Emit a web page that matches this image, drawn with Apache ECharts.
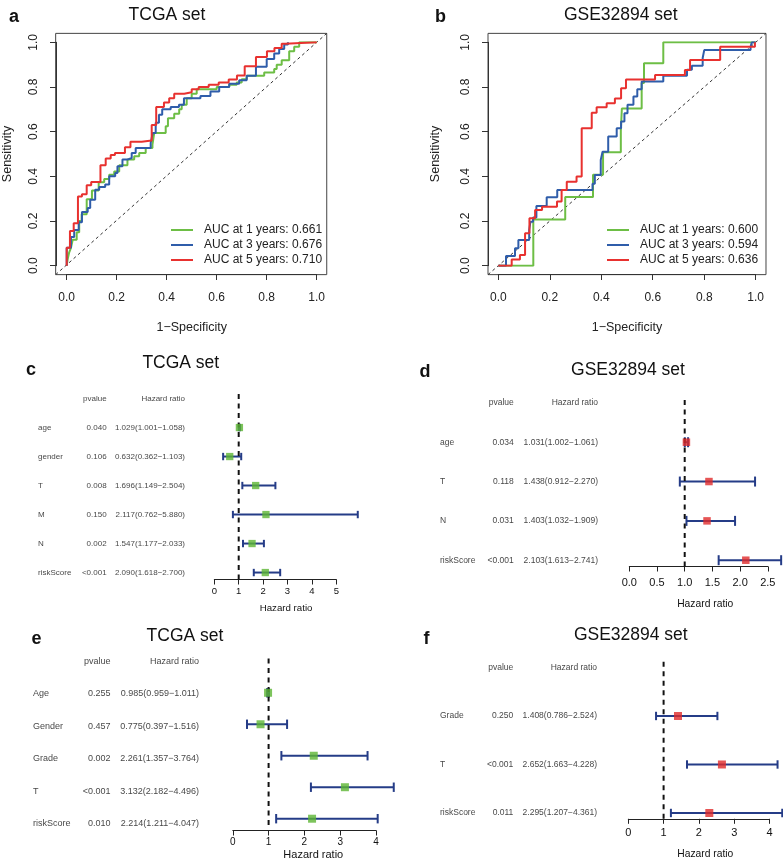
<!DOCTYPE html>
<html><head><meta charset="utf-8">
<script src="https://cdn.jsdelivr.net/npm/echarts@6/dist/echarts.min.js"></script>
<style>html,body{margin:0;padding:0;background:#fff}#c{width:783px;height:861px}</style>
</head><body><div id="c"></div>
<script>
const FONT = "'Liberation Sans', Arial, Helvetica, sans-serif";

// ---------- ROC data (x = 1-Specificity, y = Sensitivity) ----------
const rocA_1y = [[0,0],[0.004,0.03],[0.01,0.06],[0.017,0.08],[0.024,0.116],[0.04,0.15],[0.05,0.2],[0.06,0.23],[0.08,0.298],[0.101,0.337],[0.128,0.373],[0.15,0.388],[0.17,0.407],[0.19,0.422],[0.21,0.45],[0.243,0.475],[0.27,0.49],[0.29,0.505],[0.316,0.527],[0.343,0.542],[0.35,0.594],[0.396,0.624],[0.405,0.66],[0.43,0.68],[0.45,0.70],[0.46,0.72],[0.48,0.75],[0.5,0.77],[0.52,0.79],[0.6,0.80],[0.65,0.81],[0.68,0.82],[0.7,0.835],[0.72,0.85],[0.79,0.865],[0.83,0.88],[0.84,0.9],[0.86,0.92],[0.89,0.96],[0.91,0.98],[0.93,1.0],[1.0,1.0]];
const rocA_3y = [[0,0],[0,0.08],[0.017,0.128],[0.03,0.16],[0.048,0.195],[0.061,0.24],[0.084,0.258],[0.094,0.295],[0.114,0.34],[0.13,0.352],[0.154,0.363],[0.17,0.40],[0.194,0.415],[0.203,0.445],[0.223,0.475],[0.243,0.482],[0.26,0.505],[0.276,0.527],[0.336,0.55],[0.344,0.594],[0.356,0.64],[0.369,0.676],[0.382,0.70],[0.416,0.71],[0.449,0.72],[0.469,0.75],[0.535,0.76],[0.575,0.78],[0.61,0.80],[0.65,0.815],[0.69,0.83],[0.72,0.85],[0.757,0.89],[0.80,0.925],[0.83,0.95],[0.85,0.97],[0.87,0.99],[0.885,1.0]];
const rocA_5y = [[0,0],[0,0.08],[0.013,0.155],[0.028,0.19],[0.045,0.31],[0.061,0.32],[0.08,0.36],[0.098,0.375],[0.135,0.45],[0.156,0.48],[0.176,0.495],[0.193,0.505],[0.233,0.53],[0.255,0.555],[0.30,0.56],[0.34,0.63],[0.358,0.71],[0.389,0.73],[0.41,0.75],[0.43,0.77],[0.47,0.776],[0.50,0.79],[0.528,0.80],[0.568,0.81],[0.608,0.82],[0.648,0.833],[0.681,0.851],[0.712,0.893],[0.757,0.934],[0.801,0.96],[0.831,0.975],[0.86,0.994],[0.874,1.0],[1.0,1.0]];
const rocB_1y = [[0,0],[0.136,0.207],[0.26,0.307],[0.368,0.407],[0.407,0.508],[0.476,0.603],[0.48,0.704],[0.557,0.818],[0.566,0.906],[0.641,1.0],[1.0,1.0]];
const rocB_3y = [[0,0],[0.03,0.043],[0.065,0.078],[0.078,0.115],[0.12,0.16],[0.125,0.197],[0.135,0.216],[0.148,0.267],[0.188,0.306],[0.229,0.339],[0.366,0.367],[0.375,0.406],[0.398,0.473],[0.405,0.51],[0.427,0.578],[0.46,0.615],[0.477,0.645],[0.49,0.682],[0.502,0.72],[0.525,0.757],[0.54,0.79],[0.557,0.824],[0.641,0.85],[0.733,0.877],[0.752,0.895],[0.794,0.93],[0.80,0.965],[0.98,0.98],[0.985,1.0],[1.0,1.0]];
const rocB_5y = [[0,0],[0.052,0.028],[0.084,0.048],[0.104,0.145],[0.121,0.212],[0.143,0.249],[0.17,0.264],[0.228,0.287],[0.246,0.339],[0.266,0.376],[0.304,0.399],[0.324,0.615],[0.363,0.685],[0.382,0.709],[0.421,0.727],[0.453,0.748],[0.477,0.794],[0.496,0.834],[0.609,0.854],[0.725,0.876],[0.745,0.921],[0.862,0.98],[0.997,1.0]];
const rocYears = [1, 3, 5];
const aucA = ['0.661', '0.676', '0.710'];
const aucB = ['0.600', '0.594', '0.636'];
const rocColors = ['#6DBE45', '#2F5DAA', '#E8312F'];

// ---------- Forest data ----------
const varsC = ['age','gender','T','M','N','riskScore'];
const pC    = ['0.040','0.106','0.008','0.150','0.002','<0.001'];
const hrC   = [1.029,0.632,1.696,2.117,1.547,2.090];
const lowC  = [1.001,0.362,1.149,0.762,1.177,1.618];
const highC = [1.058,1.103,2.504,5.880,2.033,2.700];

const varsD = ['age','T','N','riskScore'];
const pD    = ['0.034','0.118','0.031','<0.001'];
const hrD   = [1.031,1.438,1.403,2.103];
const lowD  = [1.002,0.912,1.032,1.613];
const highD = [1.061,2.270,1.909,2.741];

const varsE = ['Age','Gender','Grade','T','riskScore'];
const pE    = ['0.255','0.457','0.002','<0.001','0.010'];
const hrE   = [0.985,0.775,2.261,3.132,2.214];
const lowE  = [0.959,0.397,1.357,2.182,1.211];
const highE = [1.011,1.516,3.764,4.496,4.047];

const varsF = ['Grade','T','riskScore'];
const pF    = ['0.250','<0.001','0.011'];
const hrF   = [1.408,2.652,2.295];
const lowF  = [0.786,1.663,1.207];
const highF = [2.524,4.228,4.361];

const FOREST_GREEN = '#5DB533', FOREST_RED = '#E02A2A', BAR_BLUE = '#253C87';

// ---------- builders ----------
const grids = [], xAxes = [], yAxes = [], series = [], legends = [], graphics = [];
function addGrid(g) { grids.push(Object.assign({containLabel:false}, g)); return grids.length - 1; }
function addX(a) { xAxes.push(a); return xAxes.length - 1; }
function addY(a) { yAxes.push(a); return yAxes.length - 1; }

function rocPanel(cfg, curves, aucs) {
  const top = 42.3, h = 223.4;
  const gi = addGrid({left: cfg.x0, top: top, width: cfg.w, height: h, show: false});
  const axLine = {show: true, onZero: false, lineStyle: {color: '#333', width: 1}};
  const axTick = {show: true, length: 6, lineStyle: {color: '#333', width: 1}};
  const xi = addX({gridIndex: gi, type: 'value', min: 0, max: 1, interval: 0.2, offset: 8.3,
    axisLine: axLine, axisTick: axTick, splitLine: {show: false},
    axisLabel: {margin: 18, fontSize: 12, color: '#222', fontFamily: FONT, formatter: v => v.toFixed(1)},
    name: '1\u2212Specificity', nameLocation: 'middle', nameGap: 47,
    nameTextStyle: {fontSize: 12.5, color: '#222', fontFamily: FONT}});
  const yi = addY({gridIndex: gi, type: 'value', min: 0, max: 1, interval: 0.2, offset: cfg.yoff,
    axisLine: axLine, axisTick: axTick, splitLine: {show: false},
    axisLabel: {rotate: 90, margin: 16, fontSize: 12, color: '#222', fontFamily: FONT, formatter: v => v.toFixed(1)},
    name: 'Sensitivity', nameLocation: 'middle', nameGap: cfg.nameGap,
    nameTextStyle: {fontSize: 12.5, color: '#222', fontFamily: FONT}});
  // frame (R box with 4% padding)
  const fi = addGrid({left: cfg.x0 - 0.04 * cfg.w, top: top - 0.04 * h, width: cfg.w * 1.08, height: h * 1.08,
    show: true, borderColor: '#444', borderWidth: 1, backgroundColor: 'rgba(0,0,0,0)'});
  const fxi = addX({gridIndex: fi, type: 'value', min: -0.04, max: 1.04, show: false});
  const fyi = addY({gridIndex: fi, type: 'value', min: -0.04, max: 1.04, show: false});
  series.push({type: 'line', xAxisIndex: fxi, yAxisIndex: fyi, data: [[-0.04, -0.04], [1.04, 1.04]],
    symbol: 'none', silent: true, z: 1, lineStyle: {color: '#333', width: 1, type: [3, 3]}});
  const names = [];
  curves.forEach((d, i) => {
    const name = 'AUC at ' + rocYears[i] + ' years: ' + aucs[i];
    names.push(name);
    series.push({type: 'line', name: name, xAxisIndex: xi, yAxisIndex: yi, data: d, step: 'end',
      symbol: 'none', z: 2 + i, silent: true, color: rocColors[i], lineStyle: {color: rocColors[i], width: 2}});
  });
  legends.push({orient: 'vertical', left: cfg.legX - 5, top: 217.5, itemWidth: 22, itemHeight: 2, itemGap: 0,
    icon: 'path://M0,0 L22,0 L22,2 L0,2 Z',
    selectedMode: false, data: names,
    textStyle: {fontSize: 12, color: '#222', fontFamily: FONT, lineHeight: 15, padding: [0, 0, 0, 6]}});
}

function forestPanel(cfg, names, pvals, hr, low, high, color) {
  const n = names.length;
  const ymin = 1 - 0.04 * n, ymax = n + 1 + 0.04 * n;
  const height = (ymax - ymin) * cfg.rowH;
  const top = cfg.bottom - height;
  const maxX = Math.max(...low, ...high);
  // table
  const ti = addGrid({left: cfg.tx, top: top, width: cfg.tw, height: height, show: false});
  const txi = addX({gridIndex: ti, type: 'value', min: 0, max: 3, show: false});
  const tyi = addY({gridIndex: ti, type: 'value', min: ymin, max: ymax, show: false});
  const lbl = align => ({show: true, position: 'inside', align: align, verticalAlign: 'middle', formatter: '{b}',
    fontSize: cfg.fs, color: '#111', fontFamily: FONT});
  const txt = (data, align) => series.push({type: 'scatter', xAxisIndex: txi, yAxisIndex: tyi, symbolSize: 1,
    itemStyle: {color: 'rgba(0,0,0,0)'}, silent: true, clip: false, label: lbl(align), data: data});
  txt(names.map((s, i) => ({name: s, value: [0, n - i]})), 'left');
  txt([{name: 'pvalue', value: [1.4, n + 1]}].concat(pvals.map((s, i) => ({name: s, value: [1.4, n - i]}))), 'right');
  const hrText = hr.map((h, i) => h.toFixed(3) + '(' + low[i].toFixed(3) + '\u2212' + high[i].toFixed(3) + ')');
  txt([{name: 'Hazard ratio', value: [3, n + 1]}].concat(hrText.map((s, i) => ({name: s, value: [3, n - i]}))), 'right');
  // data area
  const di = addGrid({left: cfg.x0, top: top, width: maxX * cfg.unit, height: height, show: false});
  const dxi = addX({gridIndex: di, type: 'value', min: 0, max: maxX,
    axisLine: {show: false}, axisTick: {show: false}, axisLabel: {show: false}, splitLine: {show: false},
    name: 'Hazard ratio', nameLocation: 'middle', nameGap: cfg.nameGap,
    nameTextStyle: {fontSize: cfg.nameFs, color: '#111', fontFamily: FONT}});
  const dyi = addY({gridIndex: di, type: 'value', min: ymin, max: ymax, show: false});
  const cap = cfg.cap;
  series.push({type: 'custom', xAxisIndex: dxi, yAxisIndex: dyi, silent: true, z: 2, clip: false,
    data: hr.map((h, i) => [low[i], high[i], n - i]),
    renderItem: (params, api) => {
      const y = api.value(2);
      const p1 = api.coord([api.value(0), y]);
      const p2 = api.coord([api.value(1), y]);
      const st = {stroke: BAR_BLUE, lineWidth: 2};
      return {type: 'group', children: [
        {type: 'line', shape: {x1: p1[0], y1: p1[1], x2: p2[0], y2: p2[1]}, style: st},
        {type: 'line', shape: {x1: p1[0], y1: p1[1] - cap, x2: p1[0], y2: p1[1] + cap}, style: st},
        {type: 'line', shape: {x1: p2[0], y1: p2[1] - cap, x2: p2[0], y2: p2[1] + cap}, style: st}
      ]};
    }});
  series.push({type: 'line', xAxisIndex: dxi, yAxisIndex: dyi, data: [[1, ymin], [1, ymax]], symbol: 'none',
    silent: true, z: 3, lineStyle: {color: '#111', width: 2, type: [5, 4.5]}});
  series.push({type: 'scatter', xAxisIndex: dxi, yAxisIndex: dyi, symbol: 'rect', symbolSize: cfg.sq,
    silent: true, z: 4, itemStyle: {color: color}, data: hr.map((h, i) => [h, n - i])});
  // axis (R draws only to last tick)
  const ai = addGrid({left: cfg.x0, top: top, width: cfg.lastTick * cfg.unit, height: height, show: false});
  addX({gridIndex: ai, type: 'value', min: 0, max: cfg.lastTick, interval: cfg.step,
    axisLine: {show: true, onZero: false, lineStyle: {color: '#222', width: 1}},
    axisTick: {show: true, length: 5, lineStyle: {color: '#222', width: 1}},
    splitLine: {show: false},
    axisLabel: {margin: cfg.margin, fontSize: cfg.tickFs, color: '#111', fontFamily: FONT,
      formatter: v => cfg.step < 1 ? v.toFixed(1) : String(Math.round(v))}});
  addY({gridIndex: ai, type: 'value', min: 0, max: 1, show: false});
}

function addText(t, x, y, size, bold) {
  graphics.push({type: 'text', x: x, y: y, silent: true,
    style: {text: t, fontSize: size, fontWeight: bold ? 'bold' : 'normal', fontFamily: FONT, fill: '#111',
      align: 'center', verticalAlign: 'middle'}});
}

rocPanel({x0: 65.7, w: 251, yoff: 10.7, nameGap: 42, legX: 171}, [rocA_1y, rocA_3y, rocA_5y], aucA);
rocPanel({x0: 498.3, w: 257.4, yoff: 10.3, nameGap: 46, legX: 607}, [rocB_1y, rocB_3y, rocB_5y], aucB);

forestPanel({tx: 38, tw: 147, x0: 214.3, unit: 24.4, bottom: 579.5, rowH: 29, lastTick: 5, step: 1,
  fs: 8, tickFs: 9.5, margin: 7, nameFs: 9.7, nameGap: 24, sq: 7.3, cap: 3.7}, varsC, pC, hrC, lowC, highC, FOREST_GREEN);
forestPanel({tx: 440, tw: 158, x0: 629.3, unit: 55.4, bottom: 566.5, rowH: 39.33, lastTick: 2.5, step: 0.5,
  fs: 8.5, tickFs: 11, margin: 11, nameFs: 10.3, nameGap: 33, sq: 7.5, cap: 5}, varsD, pD, hrD, lowD, highD, FOREST_RED);
forestPanel({tx: 33, tw: 166, x0: 232.8, unit: 35.8, bottom: 830.5, rowH: 32.5, lastTick: 4, step: 1,
  fs: 9, tickFs: 10, margin: 7, nameFs: 11, nameGap: 24, sq: 8, cap: 4.7}, varsE, pE, hrE, lowE, highE, FOREST_GREEN);
forestPanel({tx: 440, tw: 157, x0: 628.3, unit: 35.3, bottom: 818.8, rowH: 48.5, lastTick: 4, step: 1,
  fs: 8.5, tickFs: 11, margin: 9, nameFs: 10.3, nameGap: 30, sq: 8, cap: 4.2}, varsF, pF, hrF, lowF, highF, FOREST_RED);

// titles & panel letters
addText('TCGA set', 167, 15.6, 17.5, false);
addText('GSE32894 set', 620.8, 15.6, 17.5, false);
addText('TCGA set', 180.8, 363.2, 17.5, false);
addText('GSE32894 set', 628, 369.9, 17.5, false);
addText('TCGA set', 185, 636.6, 17.5, false);
addText('GSE32894 set', 630.8, 635.6, 17.5, false);
addText('a', 14, 17, 18, true);
addText('b', 440.5, 17, 18, true);
addText('c', 31, 370.4, 18, true);
addText('d', 425, 371.7, 18, true);
addText('e', 36.5, 638.7, 18, true);
addText('f', 426.5, 638.7, 18, true);

const chart = echarts.init(document.getElementById('c'), null, {renderer: 'canvas'});
chart.setOption({
  animation: false,
  backgroundColor: '#fff',
  textStyle: {fontFamily: FONT},
  grid: grids, xAxis: xAxes, yAxis: yAxes, series: series, legend: legends, graphic: graphics,
  tooltip: {show: false}
});
</script></body></html>
